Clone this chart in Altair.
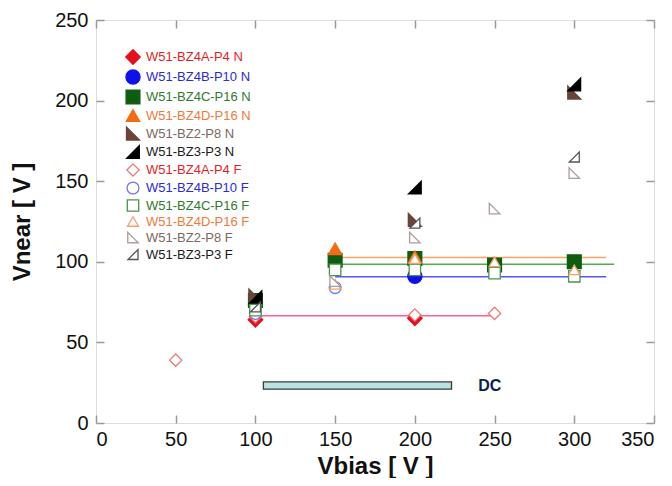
import altair as alt
import pandas as pd

# ---------------- data ----------------
series = ["W51-BZ4A-P4 N", "W51-BZ4B-P10 N", "W51-BZ4C-P16 N", "W51-BZ4D-P16 N",
          "W51-BZ2-P8 N", "W51-BZ3-P3 N",
          "W51-BZ4A-P4 F", "W51-BZ4B-P10 F", "W51-BZ4C-P16 F", "W51-BZ4D-P16 F",
          "W51-BZ2-P8 F", "W51-BZ3-P3 F"]
stroke_colors = ["#e3121b", "#1010e8", "#0d5c10", "#f36b12", "#6a4538", "#000000",
                 "#f07878", "#7373f5", "#4a944a", "#f5a06a", "#ab9d9b", "#555555"]
fill_colors = ["#e3121b", "#1010e8", "#0d5c10", "#f36b12", "#6a4538", "#000000",
               "#ffffff", "#ffffff", "#ffffff", "#ffffff", "#ffffff", "#ffffff"]
label_colors = ["#e31e24", "#2a2ad8", "#2e7a2e", "#f07a3a", "#7b6862", "#1a1a1a",
                "#e31e24", "#2a2ad8", "#2e7a2e", "#f07a3a", "#7b6862", "#1a1a1a"]
shapes = ["diamond", "circle", "square", "triangle-up", "M-1,-1L-1,1L1,1Z", "M1,-1L1,1L-1,1Z",
          "diamond", "circle", "square", "triangle-up", "M-1,-1L-1,1L1,1Z", "M1,-1L1,1L-1,1Z"]
sizes = [210, 100, 125, 120, 95, 95, 210, 100, 125, 120, 95, 95]

vbias = {
    "W51-BZ4A-P4 N": [100, 200],
    "W51-BZ4B-P10 N": [200],
    "W51-BZ4C-P16 N": [100, 150, 200, 250, 300],
    "W51-BZ4D-P16 N": [150, 200],
    "W51-BZ2-P8 N": [100, 200, 300],
    "W51-BZ3-P3 N": [100, 200, 300],
    "W51-BZ4A-P4 F": [50, 100, 200, 250],
    "W51-BZ4B-P10 F": [100, 150],
    "W51-BZ4C-P16 F": [100, 150, 200, 250, 300],
    "W51-BZ4D-P16 F": [150, 200, 250, 300],
    "W51-BZ2-P8 F": [150, 200, 250, 300],
    "W51-BZ3-P3 F": [100, 200, 300],
}
vnear = {
    "W51-BZ4A-P4 N": [64, 65],
    "W51-BZ4B-P10 N": [91],
    "W51-BZ4C-P16 N": [76, 101, 102, 98, 100],
    "W51-BZ4D-P16 N": [108, 103],
    "W51-BZ2-P8 N": [79, 126, 205],
    "W51-BZ3-P3 N": [78, 146, 210],
    "W51-BZ4A-P4 F": [39, 66, 67, 68],
    "W51-BZ4B-P10 F": [68, 84],
    "W51-BZ4C-P16 F": [70, 95, 95, 93, 91],
    "W51-BZ4D-P16 F": [86, 102, 100, 95],
    "W51-BZ2-P8 F": [88, 115, 133, 155],
    "W51-BZ3-P3 F": [72, 124, 165],
}

# horizontal fit lines
line_colors = ["#ff5f94", "#5555ff", "#4caf50", "#ffa366"]
line_start = [100, 150, 150, 150]
line_end = [252, 320, 325, 320]
line_level = [66.5, 90.8, 98.5, 102.7]

# DC bar
bar_x = [105]
bar_x2 = [223]
bar_y = [21]
bar_y2 = [25.5]
dc_x = [247]
dc_y = [23]

x_ticks = [0, 50, 100, 150, 200, 250, 300, 350]
y_ticks = [0, 50, 100, 150, 200, 250]

# ---------------- tables ----------------
rows = []
for s in series:
    for xv, yv in zip(vbias[s], vnear[s]):
        rows.append({"series": s, "vbias": xv, "vnear": yv, "order": series.index(s)})
pts = pd.DataFrame(rows)
lines = pd.DataFrame({"c": line_colors, "x": line_start, "x2": line_end, "y": line_level})
bar = pd.DataFrame({"x": bar_x, "x2": bar_x2, "y": bar_y, "y2": bar_y2})
dc = pd.DataFrame({"x": dc_x, "y": dc_y, "t": ["DC"]})

FONT = "Liberation Sans"
xs = alt.Scale(domain=[0, 350], nice=False, zero=False)
ys = alt.Scale(domain=[0, 250], nice=False, zero=False)

tick_style = dict(grid=False, domain=False, tickColor="#999999", tickWidth=1.5,
                  tickSize={"expr": "-8"})
axis_style = dict(tick_style, labelFont=FONT, labelFontSize=20,
                  labelColor="#111111", titleFont=FONT, titleFontSize=24,
                  titleFontWeight="bold", titleColor="#111111")

xaxis = alt.Axis(values=x_ticks, title="Vbias [ V ]", labelPadding=14, titlePadding=5,
                 **axis_style)
yaxis = alt.Axis(values=y_ticks, title="Vnear [ V ]", labelPadding=16, titlePadding=20,
                 **axis_style)

label_expr = " : ".join(f"datum.label === '{s}' ? '{c}'" for s, c in zip(series, label_colors)) + " : '#000000'"
legend = alt.Legend(orient="none", legendX=29, legendY=29, title=None, labelFont=FONT,
                    labelFontSize=13, labelColor={"expr": label_expr}, labelOffset=5,
                    rowPadding=0, padding=0, symbolStrokeWidth=1.3, labelLimit=300)

points = alt.Chart(pts).mark_point(filled=False, strokeWidth=1.3, opacity=1).encode(
    x=alt.X("vbias:Q", scale=xs, axis=xaxis),
    y=alt.Y("vnear:Q", scale=ys, axis=yaxis),
    color=alt.Color("series:N", scale=alt.Scale(domain=series, range=stroke_colors), legend=legend),
    fill=alt.Fill("series:N", scale=alt.Scale(domain=series, range=fill_colors), legend=legend),
    shape=alt.Shape("series:N", scale=alt.Scale(domain=series, range=shapes), legend=legend),
    size=alt.Size("series:N", scale=alt.Scale(domain=series, range=sizes), legend=legend),
    order=alt.Order("order:Q"),
)

rules = alt.Chart(lines).mark_rule(strokeWidth=1.5).encode(
    x=alt.X("x:Q", scale=xs, axis=None),
    x2="x2:Q",
    y=alt.Y("y:Q", scale=ys, axis=None),
    color=alt.Color("c:N", scale=None),
)

rect = alt.Chart(bar).mark_rect(fill="#b9e3e3", stroke="#3a3a3a", strokeWidth=1.3).encode(
    x=alt.X("x:Q", scale=xs, axis=None), x2="x2:Q",
    y=alt.Y("y:Q", scale=ys, axis=None), y2="y2:Q",
)

text = alt.Chart(dc).mark_text(font=FONT, fontSize=16, fontWeight="bold", color="#0d1e4a").encode(
    x=alt.X("x:Q", scale=xs, axis=None),
    y=alt.Y("y:Q", scale=ys, axis=None),
    text="t:N",
)

mirror = alt.Chart(bar).mark_rect(opacity=0).encode(
    x=alt.X("x:Q", scale=xs, axis=alt.Axis(orient="top", values=x_ticks, labels=False, title=None, **tick_style)),
    x2="x2:Q",
    y=alt.Y("y:Q", scale=ys, axis=alt.Axis(orient="right", values=y_ticks, labels=False, title=None, **tick_style)),
    y2="y2:Q",
)

chart = alt.layer(rules, rect, text, points, mirror).resolve_axis(
    x="independent", y="independent"
).properties(
    width=558, height=403,
    autosize=alt.AutoSizeParams(type="none"),
    padding={"left": 88, "top": 12, "right": 10, "bottom": 55},
).configure_view(stroke="#999999", strokeWidth=1.5).configure(background="white")

chart.save("out.html", embed_options={"renderer": "svg", "actions": False})
